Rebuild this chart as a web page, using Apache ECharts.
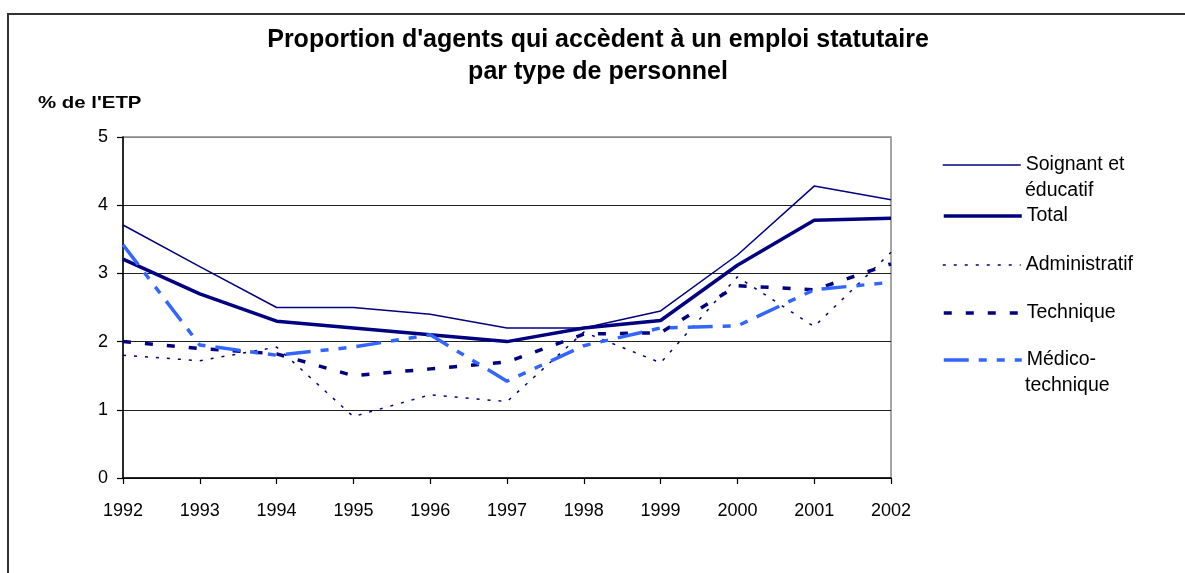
<!DOCTYPE html>
<html>
<head>
<meta charset="utf-8">
<script src="https://cdn.jsdelivr.net/npm/echarts@6/dist/echarts.min.js"></script>
<style>html,body{margin:0;padding:0;background:#fff;}#c{width:1185px;height:573px;}</style>
</head>
<body>
<div id="c"></div>
<script>
const years = ['1992','1993','1994','1995','1996','1997','1998','1999','2000','2001','2002'];
const yTicks = [0, 1, 2, 3, 4, 5];
const soignant = [3.71, 3.1, 2.5, 2.5, 2.4, 2.2, 2.2, 2.45, 3.27, 4.28, 4.08];
const total = [3.21, 2.7, 2.3, 2.2, 2.1, 2.0, 2.2, 2.31, 3.12, 3.78, 3.81];
const administratif = [1.8, 1.72, 1.92, 0.9, 1.22, 1.12, 2.14, 1.69, 2.95, 2.22, 3.31];
const technique = [2.0, 1.9, 1.82, 1.5, 1.6, 1.7, 2.11, 2.13, 2.82, 2.76, 3.14];
const medico = [3.42, 1.95, 1.8, 1.92, 2.1, 1.42, 1.94, 2.2, 2.23, 2.76, 2.87];

const NAVY = '#000080';
const LBLUE = '#3366FF';
const FONT = 'Liberation Sans, Arial, sans-serif';

const seriesDefs = [
  {name: 'Soignant et éducatif', label: 'Soignant et', data: soignant, color: NAVY, width: 1.5, type: 'solid', y: 165},
  {name: 'Total', label: 'Total', data: total, color: NAVY, width: 3.5, type: 'solid', y: 216},
  {name: 'Administratif', label: 'Administratif', data: administratif, color: NAVY, width: 1.5, type: [3, 8], y: 265},
  {name: 'Technique', label: 'Technique', data: technique, color: NAVY, width: 3.5, type: [8, 14], y: 313},
  {name: 'Médico-technique', label: 'Médico-', data: medico, color: LBLUE, width: 3.5, type: [25, 10, 8, 10, 8, 10], y: 360}
];

const chart = echarts.init(document.getElementById('c'), null, {renderer: 'canvas'});

const option = {
  backgroundColor: '#fff',
  animation: false,
  title: {
    text: "Proportion d'agents qui accèdent à un emploi statutaire\npar type de personnel",
    left: 593, top: 19, textAlign: 'center',
    textStyle: {fontFamily: FONT, fontWeight: 'bold', fontSize: 25, lineHeight: 32, color: '#000'}
  },
  grid: {left: 123, right: 294, top: 137, bottom: 95, show: true, borderColor: '#888', borderWidth: 1.5, backgroundColor: 'transparent'},
  xAxis: {
    type: 'category', data: years, boundaryGap: false,
    axisLine: {lineStyle: {color: '#000', width: 1.5}},
    axisTick: {show: true, length: 6, lineStyle: {color: '#000', width: 1.2}},
    axisLabel: {color: '#000', fontFamily: FONT, fontSize: 18, margin: 24}
  },
  yAxis: {
    type: 'value', min: yTicks[0], max: yTicks[yTicks.length - 1], interval: 1,
    axisLine: {show: true, lineStyle: {color: '#000', width: 1.5}},
    axisTick: {show: true, length: 6, lineStyle: {color: '#000', width: 1.2}},
    axisLabel: {color: '#000', fontFamily: FONT, fontSize: 18, margin: 15},
    splitLine: {show: true, lineStyle: {color: ['#222', '#222', '#222', '#222', '#222', '#888'], width: 1.2}}
  },
  legend: seriesDefs.map(s => ({
    data: [s.name],
    orient: 'vertical',
    left: 942, top: s.y - 12, padding: 0,
    itemWidth: 78, itemHeight: 14, itemGap: 0,
    selectedMode: false,
    formatter: () => s.label,
    textStyle: {fontFamily: FONT, fontSize: 19.5, lineHeight: 24, color: '#000', padding: [0, 0, 0, 0]},
    lineStyle: {width: s.width, type: s.type, color: s.color},
    itemStyle: {opacity: 0}
  })),
  series: seriesDefs.map(s => ({
    name: s.name, type: 'line', data: s.data, symbol: 'none', showSymbol: false,
    lineStyle: {color: s.color, width: s.width, type: s.type},
    itemStyle: {color: s.color},
    z: 3
  })),
  graphic: [
    {type: 'rect', shape: {x: 8, y: 14, width: 1400, height: 800}, style: {fill: 'none', stroke: '#333', lineWidth: 2}, silent: true, z: -1},
    {type: 'text', x: 38, y: 103, scaleX: 1.2, style: {text: "% de l'ETP", font: 'bold 17px ' + FONT, fill: '#000', verticalAlign: 'middle'}},
    {type: 'text', x: 1025, y: 191, style: {text: 'éducatif', font: '19.5px ' + FONT, fill: '#000', verticalAlign: 'middle'}},
    {type: 'text', x: 1025, y: 386, style: {text: 'technique', font: '19.5px ' + FONT, fill: '#000', verticalAlign: 'middle'}}
  ]
};
chart.setOption(option);
</script>
</body>
</html>
